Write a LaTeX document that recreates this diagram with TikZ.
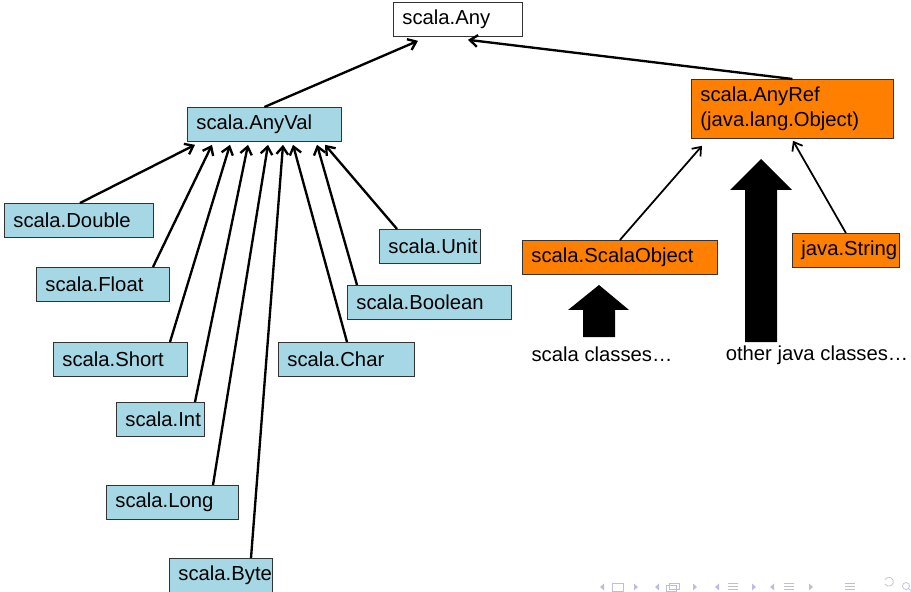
\documentclass[tikz,border=0pt]{standalone}
\usepackage{fontspec}
\setmainfont{Liberation Sans}
\usetikzlibrary{arrows.meta,calc}
\definecolor{valblue}{HTML}{A6D7E4}
\definecolor{refOrange}{HTML}{FF8000}
\definecolor{navgray}{HTML}{BDBDDD}

\begin{document}
\begin{tikzpicture}[x=0.03cm,y=-0.03cm,
  cls/.style={draw=black!80,line width=0.7pt,anchor=north west,inner xsep=0.27cm,inner ysep=2pt,
    minimum height=1.02cm,text width=#1,align=left,font=\fontsize{17.3}{21}\selectfont},
  val/.style={cls=#1,fill=valblue},
  ref/.style={cls=#1,fill=refOrange},
  isa/.style={-{Straight Barb[length=6.5pt,width=10pt]},line width=2pt},
  isathin/.style={isa,line width=1.5pt},
  caption/.style={font=\fontsize{17.3}{21}\selectfont}]
\useasboundingbox (0,0) rectangle (911,592);

% top of the hierarchy
\node[cls=3.33cm,fill=white] (any) at (393,2) {scala.Any};
\node[val=4.08cm] (anyval) at (187,107) {scala.AnyVal};
\node[ref=5.52cm,minimum height=1.77cm] (anyref) at (691,79) {scala.AnyRef\\(java.lang.Object)};

% value classes
\path
(4,203)   node[val=3.93cm] (dbl)  {scala.Double}
(36,267)  node[val=3.45cm] (flt)  {scala.Float}
(53,342)  node[val=3.48cm] (shrt) {scala.Short}
(116,402) node[val=2.10cm] (int)  {scala.Int}
(106,485) node[val=3.42cm] (lng)  {scala.Long}
(169,558) node[val=2.55cm] (byte) {scala.Byte}
(278,342) node[val=3.54cm] (chr)  {scala.Char}
(347,285) node[val=4.38cm] (bool) {scala.Boolean}
(379,229) node[val=2.49cm] (unit) {scala.Unit}
;

% reference classes
\node[ref=5.31cm] (sobj) at (522,240) {scala.ScalaObject};
\node[ref=2.67cm] (str) at (792,233) {java.String};
\node[caption] (scls) at (602,354) {scala classes…};
\node[caption] (jcls) at (817,355) {other java classes…};

% subclass arrows
\draw[isa] (anyval.north) -- ($(any.south west)+(25,4)$);
\draw[isa] (anyref.north) -- ($(any.south west)+(75,3)$);
\begin{scope}[isa]
\draw ($(dbl.north west)+(76,0)$)   -- ($(anyval.south west)+(8,3)$);
\draw ($(flt.north west)+(117,0)$)  -- ($(anyval.south west)+(25,3)$);
\draw ($(shrt.north west)+(117,0)$) -- ($(anyval.south west)+(43,3)$);
\draw ($(int.north west)+(79,0)$)   -- ($(anyval.south west)+(61,3)$);
\draw ($(lng.north west)+(107,0)$)  -- ($(anyval.south west)+(81,3)$);
\draw ($(byte.north west)+(82,0)$)  -- ($(anyval.south west)+(96,3)$);
\draw ($(chr.north west)+(69,0)$)   -- ($(anyval.south west)+(106,3)$);
\draw ($(bool.north west)+(10,0)$)  -- ($(anyval.south west)+(130,3)$);
\draw ($(unit.north west)+(18,0)$)  -- ($(anyval.south west)+(138,3)$);
\end{scope}
\draw[isathin] (sobj.north) -- ($(anyref.south west)+(11,7)$);
\draw[isathin] (str.north) -- ($(anyref.south west)+(102,2)$);

% block arrows
\fill (583,337) -- (583,310) -- (568,310) -- (599,285) -- (629,310) -- (615,310) -- (615,337) -- cycle;
\fill (745,342) -- (745,190) -- (730,190) -- (761,159) -- (792,190) -- (777,190) -- (777,342) -- cycle;

% navigation symbols
\begin{scope}[navgray,line width=0.6pt]
\foreach \x in {604,659,719,774} \fill (\x,583.5) -- (\x-4,587) -- (\x,590.5) -- cycle;
\foreach \x in {634,693,752,809} \fill (\x,583.5) -- (\x+4,587) -- (\x,590.5) -- cycle;
\draw (612,583) rectangle (623,591);
\draw (666,585) rectangle (676,591) (669,583) rectangle (679,589);
\foreach \x in {733,789,850} \draw (\x-5,583) -- (\x+5,583) (\x-5,586) -- (\x+5,586) (\x-5,589) -- (\x+5,589);
\draw (885,584) arc (150:-150:4.5);
\draw (906,586) circle (3.5) (908.5,588.5) -- (911,591);
\end{scope}
\end{tikzpicture}
\end{document}
